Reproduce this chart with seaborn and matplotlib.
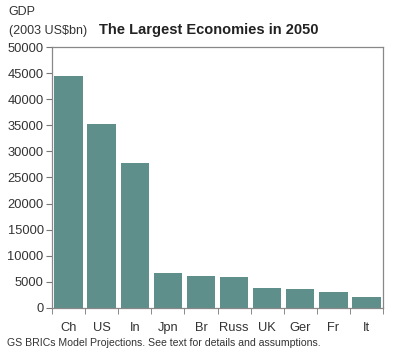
import matplotlib
matplotlib.use('Agg')
import matplotlib.pyplot as plt
import seaborn as sns
import pandas as pd
import numpy as np

# GS BRICs projections, 2050 GDP (2003 US$bn)
countries = ['Ch', 'US', 'In', 'Jpn', 'Br', 'Russ', 'UK', 'Ger', 'Fr', 'It']
gdp = [44453, 35165, 27803, 6673, 6074, 5870, 3782, 3603, 3148, 2061]
yticks = [0, 5000, 10000, 15000, 20000, 25000, 30000, 35000, 40000, 45000, 50000]

df = pd.DataFrame({'country': countries, 'gdp': gdp})

sns.set_style('white')
plt.rcParams['font.family'] = ['Liberation Sans', 'DejaVu Sans']

fig = plt.figure(figsize=(4, 3.55), dpi=100)
ax = fig.add_axes([0.13, 0.1324, 0.8275, 0.7352])

sns.barplot(data=df, x='country', y='gdp', color='#5F8F8A', width=0.86,
            saturation=1, edgecolor='none', ax=ax)

ax.set_ylim(0, 50000)
ax.set_xlim(-0.5, len(countries) - 0.5)
ax.set_yticks(yticks)
ax.set_yticklabels([str(v) for v in yticks], fontsize=9.3, color='#333333')
ax.set_xlabel('')
ax.set_ylabel('')
ax.tick_params(axis='x', which='major', length=0, pad=10, labelsize=9.3, labelcolor='#333333')
ax.set_xticks(np.arange(-0.5, len(countries)), minor=True)
ax.tick_params(axis='x', which='minor', length=4, color='#777777', direction='out', bottom=True)
ax.tick_params(axis='y', length=4, color='#777777', direction='out', left=True, pad=2)

for s in ax.spines.values():
    s.set_color('#888888')
    s.set_linewidth(0.9)

fig.text(0.022, 0.965, 'GDP', fontsize=9, color='#333333', va='center')
fig.text(0.022, 0.912, '(2003 US$bn)', fontsize=9, color='#333333', va='center')
fig.text(0.522, 0.915, 'The Largest Economies in 2050', fontsize=10.5, fontweight='bold',
         color='#222222', ha='center', va='center')
fig.text(0.018, 0.035, 'GS BRICs Model Projections. See text for details and assumptions.',
         fontsize=7.6, color='#333333', va='center')

plt.savefig('out.png', dpi=100)
